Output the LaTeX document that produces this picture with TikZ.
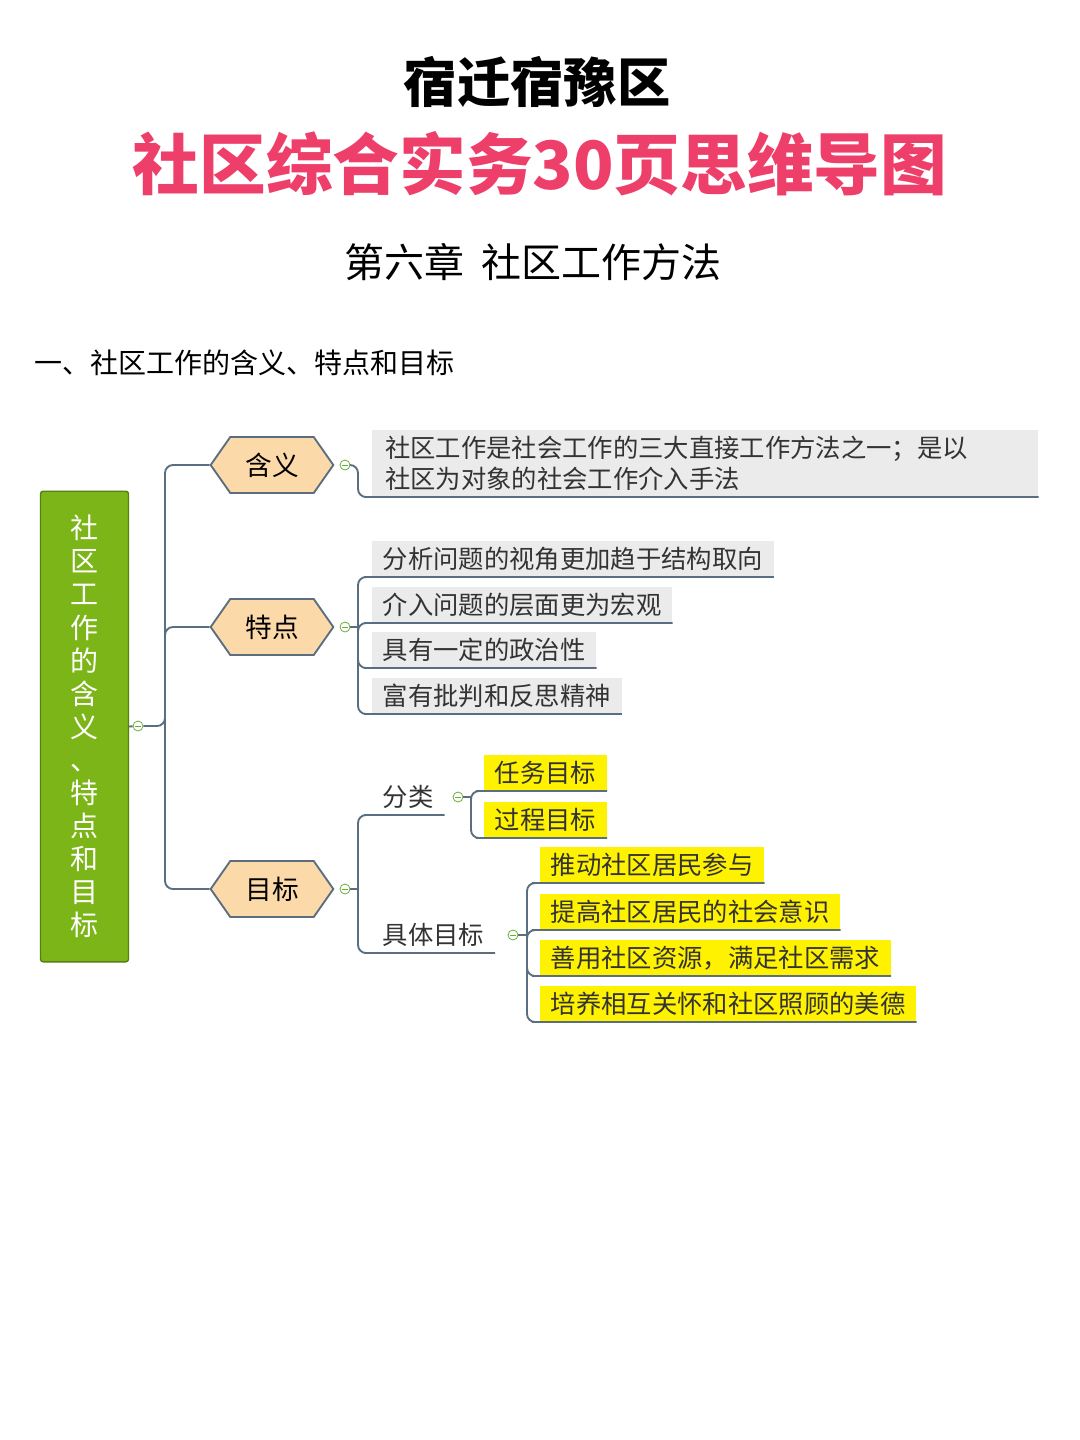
\documentclass[tikz,border=0pt]{standalone}
\usepackage{fontspec}
\setmainfont{Noto Sans CJK SC}
\usetikzlibrary{shapes.symbols}
\definecolor{lc}{HTML}{5A6E80}
\definecolor{rootg}{HTML}{7CB518}
\definecolor{hexf}{HTML}{FCD9A8}
\definecolor{grayf}{HTML}{EBEBEB}
\definecolor{yel}{HTML}{FFF200}
\definecolor{titred}{HTML}{EE3F6B}
\definecolor{ming}{HTML}{6AAE3A}
\begin{document}
\begin{tikzpicture}[x=0.75pt,y=-0.75pt,
  ln/.style={draw=lc,line width=1.4pt,rounded corners=6pt},
  hexbox/.style={signal,signal to=west and east,signal pointer angle=110,draw=lc,line width=1.4pt,fill=hexf,minimum width=92pt,minimum height=42pt,font=\fontsize{20}{24}\selectfont,inner sep=2pt},
  gbox/.style={anchor=south west,fill=grayf,minimum height=27pt,inner xsep=8pt,inner ysep=2pt,font=\fontsize{19}{23}\selectfont,text=black!80},
  ybox/.style={gbox,fill=yel},
  plain/.style={anchor=south west,minimum height=27pt,inner xsep=8pt,inner ysep=2pt,font=\fontsize{19}{23}\selectfont,text=black!80},
  minus/.style={circle,draw=ming,line width=0.6pt,fill=white,minimum size=7.5pt,inner sep=0pt,path picture={\draw[ming,line width=0.6pt] ([xshift=-2pt]path picture bounding box.center) -- ([xshift=2pt]path picture bounding box.center);}}]
\useasboundingbox (0,0) rectangle (1080,1440);
\fill[white] (0,0) rectangle (1080,1440);
\node (t1) at (537,82) {\fontsize{40}{44}\selectfont\bfseries 宿迁宿豫区};
\node[text=titred] (t2) at (540,164) {\fontsize{50}{54}\selectfont\bfseries 社区综合实务30页思维导图};
\node (t3) at (533,262) {\fontsize{30}{34}\selectfont 第六章\ \ 社区工作方法};
\node[anchor=west] (t4) at (30,363) {\fontsize{21}{25}\selectfont 一、社区工作的含义、特点和目标};
% root
\node[draw=rootg!70!black,line width=1pt,fill=rootg,rounded corners=2pt,minimum width=66pt,minimum height=353pt,text=white,text width=24pt,align=center,font=\fontsize{21}{24.8}\selectfont] (root) at (84.5,726.5) {社\\区\\工\\作\\的\\含\\义\\、\\特\\点\\和\\目\\标};
\node[minus] (m0) at (138,726) {};
\coordinate (j0) at (165,726);
\node[hexbox] (h1) at (272,465) {含义};
\node[hexbox] (h2) at (272,627) {特点};
\node[hexbox] (h3) at (272,889) {目标};
\draw[ln] (root.east) -- (m0);
\draw[ln] (m0) -- (j0) |- (h1.west);
\draw[ln] (j0) |- (h2.west);
\draw[ln] (j0) |- (h3.west);
\node[minus] (m1) at (345,465) {};
\node[minus] (m2) at (345,627) {};
\node[minus] (m3) at (345,889) {};
% 含义
\node[gbox,minimum width=499.5pt,minimum height=50pt,align=left,text width=480pt,font=\fontsize{19}{23}\selectfont] (c1) at (372,497) {社区工作是社会工作的三大直接工作方法之一；是以\\社区为对象的社会工作介入手法};
\coordinate (v1) at (358,465);
\draw[ln] (m1) -- (v1) |- (c1.south west) -- (c1.south east);
% 特点
\coordinate (v2) at (358,627);
\node[gbox] (p1) at (372,577) {分析问题的视角更加趋于结构取向};
\node[gbox] (p2) at (372,623) {介入问题的层面更为宏观};
\node[gbox] (p3) at (372,668) {具有一定的政治性};
\node[gbox] (p4) at (372,714) {富有批判和反思精神};
\draw[ln] (m2) -- (v2);
\foreach \n in {p1,p2,p3,p4} \draw[ln] (v2) |- (\n.south west) -- (\n.south east);
% 目标
\coordinate (v3) at (358,889);
\draw[ln] (m3) -- (v3);
\node[plain] (f1) at (372,815) {分类};
\node[plain] (f2) at (372,953) {具体目标};
\draw[ln] (v3) |- (f1.south west) -- (f1.south east);
\draw[ln] (v3) |- (f2.south west) -- (f2.south east);
\node[minus] (m4) at (458,797) {};
\node[minus] (m5) at (513,935) {};
\coordinate (v4) at (471,797);
\coordinate (v5) at (527,935);
\draw[ln] (m4) -- (v4);
\draw[ln] (m5) -- (v5);
\node[ybox] (y1) at (484,791) {任务目标};
\node[ybox] (y2) at (484,838) {过程目标};
\foreach \n in {y1,y2} \draw[ln] (v4) |- (\n.south west) -- (\n.south east);
\node[ybox] (z1) at (540,883) {推动社区居民参与};
\node[ybox] (z2) at (540,930) {提高社区居民的社会意识};
\node[ybox] (z3) at (540,976) {善用社区资源，满足社区需求};
\node[ybox] (z4) at (540,1022) {培养相互关怀和社区照顾的美德};
\foreach \n in {z1,z2,z3,z4} \draw[ln] (v5) |- (\n.south west) -- (\n.south east);
\end{tikzpicture}
\end{document}
